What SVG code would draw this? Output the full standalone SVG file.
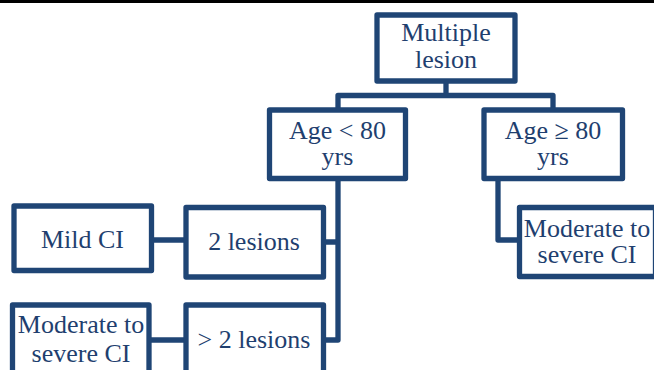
<svg xmlns="http://www.w3.org/2000/svg" width="654" height="370" viewBox="0 0 654 370">
<style>
.box{fill:#ffffff;stroke:#1F4575;stroke-width:5.3;stroke-linejoin:round}
.ln{fill:none;stroke:#1F4575;stroke-width:5.3;stroke-linejoin:round}
text{font-family:"Liberation Serif","Times New Roman",serif;font-size:26px;fill:#1F3F6F;text-anchor:middle}
</style>
<rect x="0" y="0" width="654" height="3" fill="#000000"/>
<g id="connectors">
<path class="ln" d="M446,80.5 V95.5 M338,110 V95.5 H553 V110"/>
<path class="ln" d="M338,178.5 V340 H323.5 M323.5,242 H338"/>
<path class="ln" d="M151.5,240 H186"/>
<path class="ln" d="M149,340 H186"/>
<path class="ln" d="M498,178.5 V240 H519.5"/>
</g>
<g id="multiple-lesion">
<rect class="box" x="377" y="15" width="138" height="66"/>
<text x="446" y="41">Multiple</text>
<text x="446" y="68">lesion</text>
</g>
<g id="age-lt-80">
<rect class="box" x="269.5" y="110" width="136" height="68.5"/>
<text x="337.5" y="139">Age &lt; 80</text>
<text x="337.5" y="165">yrs</text>
</g>
<g id="age-ge-80">
<rect class="box" x="484" y="110" width="138.5" height="68.5"/>
<text x="553" y="139">Age ≥ 80</text>
<text x="553" y="165">yrs</text>
</g>
<g id="mild-ci">
<rect class="box" x="14" y="206" width="137.5" height="64.5"/>
<text x="82.5" y="248">Mild CI</text>
</g>
<g id="two-lesions">
<rect class="box" x="186" y="207.5" width="137.5" height="69.5"/>
<text x="254" y="250">2 lesions</text>
</g>
<g id="moderate-severe-right">
<rect class="box" x="519.5" y="207.5" width="136" height="69"/>
<text x="587" y="237">Moderate to</text>
<text x="587" y="263">severe CI</text>
</g>
<g id="moderate-severe-left">
<rect class="box" x="12.5" y="305" width="136.5" height="70"/>
<text x="81" y="333">Moderate to</text>
<text x="81" y="361.5">severe CI</text>
</g>
<g id="more-than-two-lesions">
<rect class="box" x="186" y="305" width="137.5" height="70"/>
<text x="254" y="348">&gt; 2 lesions</text>
</g>
</svg>
